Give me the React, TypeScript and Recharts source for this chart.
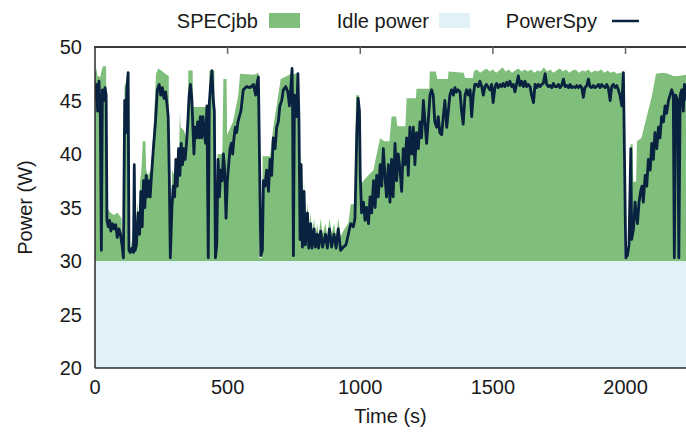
import React from "react";
import { Area, ComposedChart, Label, Line, XAxis, YAxis } from "recharts";

// PowerSpy wattmeter readings (time in s, power in W)
const spyTime = [
  0, 5, 10, 15, 20, 24, 28, 33, 38, 42, 45, 50, 55, 60, 66, 72, 78, 84, 90, 96, 102, 107, 112, 116, 120, 125,
  128, 133, 140, 145, 148, 151, 156, 163, 168, 173, 178, 183, 188, 193, 198, 203, 208, 213, 220, 228, 235, 242,
  248, 254, 260, 266, 272, 276, 280, 284, 290, 295, 300, 305, 310, 315, 320, 325, 330, 335, 340, 345, 350, 355,
  360, 365, 369, 373, 377, 382, 387, 392, 397, 402, 407, 412, 417, 422, 427, 431, 436, 441, 446, 450, 454, 459,
  464, 469, 474, 479, 484, 489, 494, 499, 504, 509, 514, 519, 524, 529, 534, 539, 544,
  550, 559, 572, 584, 597, 606, 610, 616, 620, 625, 631, 635, 641, 647, 654, 660, 666, 672, 679, 685, 691, 697,
  704, 710, 719, 727, 733, 739, 743, 745, 748, 752, 755, 760, 765, 769, 773, 777, 782, 788, 793, 801, 806, 813,
  818, 826, 831, 838, 843, 851, 858, 869, 876, 884, 892, 901, 909, 917, 926, 936, 946, 955, 964, 974, 980, 987,
  992, 997, 1000, 1005, 1012, 1018, 1024, 1031, 1037, 1043, 1050, 1056, 1062, 1068, 1075, 1081, 1087,
  1093, 1099, 1106, 1112, 1118, 1124, 1131, 1137, 1143, 1150, 1156, 1162, 1168, 1175, 1181, 1187, 1194, 1200,
  1206, 1212, 1219, 1225, 1231, 1238, 1244, 1250, 1256, 1263, 1269, 1275, 1281, 1288, 1294, 1300, 1307, 1313,
  1319, 1326, 1332, 1338, 1344, 1351, 1357, 1363, 1369, 1376, 1382, 1388, 1395, 1401, 1407, 1414, 1420, 1426,
  1432, 1439, 1445, 1451, 1458, 1464, 1470, 1476, 1483, 1489, 1495, 1501, 1508, 1514, 1520, 1527, 1533, 1539,
  1545, 1552, 1558, 1564, 1571, 1577, 1583, 1589, 1596, 1602, 1608, 1615, 1621, 1627, 1633,
  1640, 1646, 1653, 1659, 1665, 1671, 1678, 1684, 1690, 1697, 1703, 1709, 1715, 1722, 1728, 1734, 1741, 1747,
  1753, 1759, 1766, 1772, 1778, 1785, 1791, 1797, 1803, 1810, 1816, 1822, 1829, 1835, 1841, 1847, 1854, 1860,
  1866, 1872, 1879, 1885, 1891, 1898, 1904, 1910, 1917, 1923, 1929, 1935, 1942, 1948, 1954, 1961, 1967, 1973,
  1979, 1986, 1992, 1997, 2001, 2007, 2013, 2020, 2023, 2030, 2036, 2040, 2045, 2051, 2057, 2062, 2067, 2074,
  2080, 2086, 2093, 2099, 2105, 2111, 2118, 2124, 2130, 2136, 2143, 2149, 2155, 2162, 2168, 2174, 2180, 2184,
  2189, 2197, 2201, 2206, 2212, 2218, 2222, 2228,
];
const spyPower = [
  45, 46.5, 44, 46.8, 43.7, 31, 46, 45, 46.2, 45.5, 33.8, 33.2, 33.8, 32.8, 33.5, 33, 33.4, 32.2, 33, 32.5, 31.5,
  30.3, 45, 42, 46, 47.6, 31, 30.8, 31.2, 30.8, 39, 31, 31.5, 34.5, 32.5, 36.5, 33.2, 37.5, 35, 38, 36, 37.5, 36,
  38, 40.5, 43, 46, 46.5, 45.5, 46.2, 45.2, 45.8, 44.5, 43.5, 38, 30.3, 35, 37, 36, 39.5, 37, 40.5, 38, 41, 39,
  40.5, 39.5, 41, 43, 45.5, 46.5, 45.2, 42.5, 40, 42.5, 41.5, 43, 41.5, 43.5, 41.5, 43.5, 42, 41, 44.5, 30.3,
  44.8, 46.5, 47.8, 45, 44, 30.3, 31.5, 39.5, 36, 38.5, 37.5, 40, 38.5, 34, 37.5, 39, 40.5, 41, 40, 41.5, 42.5,
  42, 43, 43.5,
  44, 46, 46.3, 46.2, 46.5, 45.5, 46.5, 47.2, 40, 30.5, 31, 37.5, 37, 38.5, 36.5, 39.5, 38, 41.5, 40.5, 42.5, 43,
  44.5, 45, 46, 46.3, 45.8, 44.5, 46.5, 48, 44, 30.5, 45.5, 44, 43.5, 47.5, 43, 32, 39, 31.3, 36.5, 31.5, 34.5,
  31.2, 33.5, 31.2, 33, 31.3, 32.5, 31.2, 32.8, 31.3, 32.5, 31.2, 33, 31.3, 32.5, 31.2, 33, 31, 31.3, 31.5, 32.5,
  33.5, 33.2, 34, 42, 45.2, 44, 38, 34.5, 35.5, 33.8, 35, 33.5, 36, 34.5, 37.5, 35, 38, 36, 39, 37, 40.5,
  38, 36, 39, 35.5, 39.5, 36, 41, 37.5, 40, 38.5, 36.5, 40.5, 39, 41.5, 38, 42.5, 40, 42.5, 39, 42, 40.5, 43,
  41.5, 45, 43, 41, 43, 45.5, 46, 45.5, 43, 42.5, 43.5, 42, 41.8, 43.5, 45, 42.5, 44, 45.5, 46, 45.5, 46.2, 45.8,
  46, 45.8, 44, 42.8, 45.5, 46, 45.5, 46, 43.5, 45.5, 46.5, 46.5, 46.3, 46.8, 46.3, 45.5, 46.3, 46.5, 46.2, 46,
  46.5, 44.8, 46.3, 46.6, 46.2, 46.5, 46.3, 46.6, 46.3, 46.7, 46.4, 46.8, 46.3, 46.5, 45.8, 46.5, 47.3, 46.4,
  46.8, 46.3, 46.8, 46.3, 46.5,
  46.3, 45.5, 44.8, 46.5, 46.2, 46.5, 46.3, 46.5, 46.6, 47.5, 46.5, 46.3, 46.4, 46.2, 46.6, 46.3, 46.3, 46.5,
  46.2, 46.4, 47, 46.3, 46.4, 46.2, 46.5, 46.2, 46.3, 46.2, 46.4, 46.2, 46.4, 46.2, 45.3, 46.2, 46.4, 47, 46.3,
  46.2, 46.4, 46.2, 46.3, 46.5, 46.2, 46.5, 46.3, 46.2, 46.5, 46.2, 45, 46.3, 46.5, 46.2, 46.4, 46, 45.5, 44.5,
  47.6, 38, 30.3, 30.5, 31.5, 40.5, 32, 33, 35.5, 34.5, 33.5, 35.5, 36.5, 37, 35.5, 38, 37, 39.5, 38.5, 41, 39.5,
  42, 40.5, 42.5, 41.5, 43.5, 43, 44.5, 43.8, 45, 45.5, 46, 45.5, 30.3, 45.5, 45, 30.3, 45.5, 46, 44, 46.5, 45,
];

// SPECjbb model estimate (upper edge of the green area)
const specTime = [
  0, 5, 10, 20, 25, 30, 42, 44, 55, 70, 85, 100, 104, 109, 111, 118, 124, 127, 135, 140, 145, 148, 151, 160,
  165, 170, 175, 180, 190, 193, 200, 210, 215, 222, 230, 238, 250, 265, 278, 281, 288, 290, 300, 310, 317, 320,
  323, 335, 345, 349, 352, 368, 370, 420, 424, 426, 429, 431, 450, 452, 459, 462, 480, 484, 496, 498, 520, 540,
  547, 600, 617, 619, 629, 632, 660, 672, 685, 700, 740, 765, 770, 773, 777, 781, 788, 793, 801, 806, 813, 818,
  826, 831, 838, 843, 851, 858, 869, 876, 884, 892, 901, 909, 917, 926, 940, 955, 964, 980, 984, 996, 1000, 1012,
  1030, 1050, 1062, 1075, 1090, 1110, 1118, 1135, 1140, 1170, 1175, 1210, 1212, 1260, 1262, 1285, 1290, 1330,
  1333, 1390, 1395, 1425, 1428, 1440, 1452, 1464, 1476, 1488, 1500, 1512, 1524, 1536, 1548, 1560, 1572, 1584,
  1596, 1608, 1620, 1632, 1644, 1656, 1668, 1680, 1692, 1704, 1716, 1728, 1740, 1752, 1764, 1776, 1788, 1800,
  1812, 1824, 1836, 1848, 1860, 1872, 1884, 1896, 1908, 1920, 1932, 1944, 1956, 1968, 1980, 1992, 1995, 2010,
  2012, 2017, 2019, 2027, 2029, 2040, 2043, 2060, 2070, 2085, 2100, 2115, 2140, 2160, 2180, 2200, 2228,
];
const specPower = [
  47.5, 48, 47.3, 47.2, 47.8, 48.2, 48.2, 35.1, 34.6, 34.3, 34.5, 34, 30.3, 30.3, 46.3, 46.8, 47.6, 31.5, 31.3,
  32, 33.5, 39.5, 32, 35.5, 34, 37.5, 38.5, 41.2, 41.2, 38.5, 38, 38.5, 40, 43, 47.5, 48, 47.8, 47.5, 47.3, 30.3,
  30.3, 38.5, 38, 38.5, 40, 44, 42.5, 42.2, 41.5, 43, 47.8, 47.8, 44.4, 44.4, 44.4, 30.3, 30.3, 47.8, 47.8, 30.3,
  30.3, 40, 40, 47, 47, 41.8, 43, 45.5, 47.5, 47.4, 47.6, 30.3, 30.3, 39.8, 39.8, 42.5, 44.5, 47, 47.5, 47.5, 44,
  33, 40, 32.5, 37.5, 32.5, 35.5, 32.3, 34.5, 32.3, 34, 32.3, 33.5, 32.3, 34, 32.5, 33.5, 32.3, 34, 32.5, 33.5,
  32.3, 34, 32.3, 33, 33.5, 35.3, 35.3, 45.5, 45.5, 37, 37.5, 38, 38.5, 40, 41.5, 41.2, 41.2, 43.5, 43.5, 42.6,
  42.6, 45.2, 45.2, 46.1, 46.1, 47.7, 47.7, 47, 47, 47.7, 47.6, 47.1, 47.1, 47.7, 47.9, 47.6, 47.8, 48, 47.7,
  47.9, 47.6, 47.8, 48.1, 47.7, 47.9, 47.6, 47.8, 48, 47.7, 47.9, 47.7, 47.9, 47.6, 47.8, 47.7, 48.1, 47.7, 47.9,
  47.6, 47.8, 48, 47.7, 47.9, 47.6, 47.8, 47.9, 47.6, 47.8, 47.7, 47.9, 47.6, 47.8, 47.7, 47.9, 47.6, 47.8,
  47.6, 47.7, 47.5, 47.6, 47.6, 30.3, 30.3, 32.2, 32.2, 40.9, 40.9, 37.4, 37.4, 41.2, 41.5, 42.5, 44, 45.5,
  47.5, 47.6, 47.5, 47.3, 47.3, 47.4,
];

const idlePower = 30;
const xMax = 2228;
const xTicks = [0, 500, 1000, 1500, 2000];
const topTicks = [500, 1000, 1500, 2000];
const yTicks = [20, 25, 30, 35, 40, 45, 50];

const W = 686;
const H = 435;
const PLOT_LEFT = 95;
const PLOT_TOP = 47;

const GREEN = "#7fbf7b";
const IDLE = "#e0f2f8";
const NAVY = "#08223f";
const AXIS = "#2a2a2a";
const FONT = "'Liberation Sans', Arial, sans-serif";

type Row = { t: number; spy?: number; spec?: number; idle: number };

function buildRows(): Row[] {
  const byTime = new Map<number, Row>();
  const get = (t: number) => {
    let r = byTime.get(t);
    if (!r) {
      r = { t, idle: idlePower };
      byTime.set(t, r);
    }
    return r;
  };
  spyTime.forEach((t, i) => (get(t).spy = spyPower[i]));
  specTime.forEach((t, i) => (get(t).spec = specPower[i]));
  get(0);
  get(xMax);
  return [...byTime.values()].sort((a, b) => a.t - b.t);
}

const rows = buildRows();

// top border with inward ticks (gnuplot style) + key, drawn over the chart
function FrameAndKey() {
  const text = { fontSize: 20, fill: "#1a1a1a", fontFamily: FONT } as const;
  const tx = (t: number) => PLOT_LEFT + (t / xMax) * (W - PLOT_LEFT);
  return (
    <svg width={W} height={60} style={{ position: "absolute", left: 0, top: 0, pointerEvents: "none" }}>
      <rect x={PLOT_LEFT - 1} y={PLOT_TOP - 1} width={W - PLOT_LEFT + 1} height={2} fill="#3a3a3a" />
      {topTicks.map((t) => (
        <rect key={t} x={tx(t) - 0.75} y={PLOT_TOP} width={1.5} height={7} fill="#666" />
      ))}
      <text x={258} y={28} textAnchor="end" {...text}>SPECjbb</text>
      <rect x={269} y={13} width={31} height={15} fill={GREEN} />
      <text x={429} y={28} textAnchor="end" {...text}>Idle power</text>
      <rect x={439} y={13} width={31} height={15} fill={IDLE} />
      <text x={597} y={28} textAnchor="end" {...text}>PowerSpy</text>
      <line x1={612} x2={639} y1={21} y2={21} stroke={NAVY} strokeWidth={2.5} />
    </svg>
  );
}

export default function App() {
  return (
    <div style={{ position: "absolute", left: 0, top: 0, width: W, height: H, background: "#fff" }}>
      <ComposedChart
        width={W}
        height={H}
        data={rows}
        margin={{ top: PLOT_TOP, right: 0, left: 0, bottom: 0 }}
        style={{ fontFamily: FONT }}
      >
        <XAxis
          dataKey="t"
          type="number"
          domain={[0, xMax]}
          ticks={xTicks}
          allowDataOverflow
          height={67}
          tickLine={false}
          tickSize={0}
          tickMargin={12}
          axisLine={{ stroke: AXIS, strokeWidth: 1.5 }}
          tick={{ fontSize: 20, fill: "#1a1a1a" }}
        >
          <Label value="Time (s)" position="insideBottom" offset={12} style={{ fontSize: 20, fill: "#1a1a1a" }} />
        </XAxis>
        <YAxis
          type="number"
          domain={[20, 50]}
          ticks={yTicks}
          allowDataOverflow
          width={PLOT_LEFT}
          tickLine={false}
          tickSize={0}
          tickMargin={13}
          axisLine={{ stroke: AXIS, strokeWidth: 1.5 }}
          tick={{ fontSize: 20, fill: "#1a1a1a" }}
        >
          <Label
            value="Power (W)"
            angle={-90}
            position="insideLeft"
            offset={25}
            style={{ fontSize: 20, fill: "#1a1a1a", textAnchor: "middle" }}
          />
        </YAxis>
        <Area
          dataKey="idle"
          type="linear"
          baseValue={20}
          fill={IDLE}
          fillOpacity={1}
          stroke="none"
          isAnimationActive={false}
        />
        <Area
          dataKey="spec"
          type="linear"
          baseValue={idlePower}
          connectNulls
          fill={GREEN}
          fillOpacity={1}
          stroke="none"
          isAnimationActive={false}
        />
        <Line
          dataKey="spy"
          type="linear"
          connectNulls
          stroke={NAVY}
          strokeWidth={2.8}
          strokeLinejoin="round"
          dot={false}
          activeDot={false}
          isAnimationActive={false}
        />
      </ComposedChart>
      <FrameAndKey />
    </div>
  );
}
